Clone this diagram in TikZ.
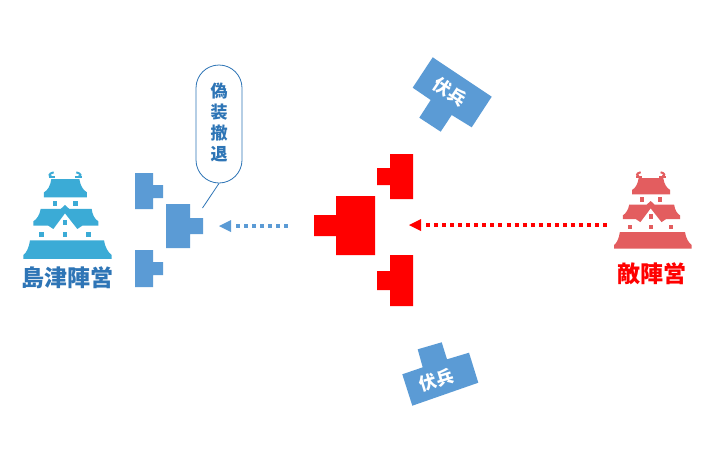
\documentclass[tikz,border=0pt]{standalone}
\usepackage{fontspec}
\newfontfamily\cjk{Noto Sans CJK JP}
\definecolor{unitblue}{HTML}{5B9BD5}
\definecolor{textblue}{HTML}{2E75B6}
\definecolor{castleblue}{HTML}{3BABD6}
\definecolor{castlered}{HTML}{E35D5F}
\tikzset{
  unit/.style={fill=#1,draw=none},
  dotline/.style={line width=4pt,dash pattern=on 4pt off 4.05pt,color=#1},
  head/.style={fill=#1,draw=none},
  ambushtext/.style={font=\cjk\bfseries\fontsize{17.5}{17.5}\selectfont,text=white,inner sep=0pt},
  camplabel/.style={font=\cjk\bfseries\fontsize{23}{23}\selectfont,inner sep=0pt},
  bubbletext/.style={font=\cjk\bfseries\fontsize{17}{21}\selectfont,text=textblue,align=center,inner sep=0pt}
}
% castle in 3x zoom coordinates
\newcommand{\castleshape}[1]{%
  \fill[#1] (124,57) -- (208,57) .. controls (211,78) and (220,91) .. (231,97) -- (231,112) -- (102,112) -- (102,97) .. controls (113,91) and (121,78) .. (124,57) -- cycle;
  \draw[#1,line width=2pt] (131,37) .. controls (115,40) and (116,50) .. (125,50);
  \draw[#1,line width=2pt] (116,52) -- (135,52);
  \draw[#1,line width=2pt] (199,37) .. controls (215,40) and (214,50) .. (205,50);
  \draw[#1,line width=2pt] (195,52) -- (216,52);
  \fill[#1] (128,122) rectangle (141,137);
  \fill[#1] (189,122) rectangle (203,137);
  \fill[#1] (92,147) -- (152,147) -- (165,135) -- (178,147) -- (245,147) .. controls (247,165) and (255,178) .. (265,184) -- (265,197) -- (217,197) -- (202,207) -- (165,160) -- (130,207) -- (115,197) -- (70,197) -- (70,184) .. controls (80,178) and (89,165) .. (92,147) -- cycle;
  \fill[#1] (160,180) rectangle (172,195);
  \fill[#1] (88,217) rectangle (102,232);
  \fill[#1] (160,217) rectangle (172,232);
  \fill[#1] (228,217) rectangle (242,232);
  \fill[#1] (60,241) -- (282,241) .. controls (285,262) and (295,278) .. (305,285) -- (305,297) -- (40,297) -- (40,285) .. controls (50,278) and (57,262) .. (60,241) -- cycle;
}
\begin{document}
\begin{tikzpicture}[x=1pt,y=-1pt]
\useasboundingbox (0,0) rectangle (714,450);
\fill[white] (0,0) rectangle (714,450);
% castles
\begin{scope}[shift={(10,160)},x=0.3333pt,y=-0.3333pt]
\castleshape{castleblue}
\end{scope}
\begin{scope}[shift={(602.27,161.4)},x=0.2933pt,y=-0.2933pt]
\castleshape{castlered}
\end{scope}
\node[camplabel,text=textblue] (bluecamp) at (67.5,278) {島津陣営};
\node[camplabel,text=red] (redcamp) at (652,274) {敵陣営};
% blue units
\fill[unit=unitblue] (135,173) -- (153,173) -- (153,185) -- (163,185) -- (163,198) -- (153,198) -- (153,209) -- (135,209) -- cycle;
\fill[unit=unitblue] (135,250) -- (153,250) -- (153,262) -- (163,262) -- (163,275) -- (153,275) -- (153,287) -- (135,287) -- cycle;
\fill[unit=unitblue] (166,204) -- (190,204) -- (190,218) -- (203,218) -- (203,234) -- (190,234) -- (190,248) -- (166,248) -- cycle;
% red units
\fill[unit=red] (336,196) -- (375,196) -- (375,255) -- (336,255) -- (336,236) -- (314,236) -- (314,215) -- (336,215) -- cycle;
\fill[unit=red] (390,154) -- (413,154) -- (413,199) -- (390,199) -- (390,185) -- (377,185) -- (377,168) -- (390,168) -- cycle;
\fill[unit=red] (390,255) -- (413,255) -- (413,306) -- (390,306) -- (390,290) -- (377,290) -- (377,271) -- (390,271) -- cycle;
% ambush units
\fill[unit=unitblue] (432.7,57.3) -- (491.7,96.7) -- (471.7,127.3) -- (451.7,115) -- (440.7,131.7) -- (419.3,117.7) -- (430.7,100) -- (412.7,87.7) -- cycle;
\node[ambushtext,rotate=-33.7] (ambushtop) at (450,91.7) {伏兵};
\fill[unit=unitblue] (402.3,374.3) -- (422.7,367.3) -- (417.7,349.3) -- (441.7,342.3) -- (447,359.3) -- (469,352.7) -- (478.3,382.7) -- (412.3,405.7) -- cycle;
\node[ambushtext,rotate=17] (ambushbottom) at (436.7,380.5) {伏兵};
% bubble
\node[draw=textblue,line width=0.8pt,fill=white,rounded corners=23pt,minimum width=46pt,minimum height=118pt,inner sep=0pt] (bubble) at (219,124) {};
\node[bubbletext] (bubbletxt) at (219,122.5) {偽\\装\\撤\\退};
\coordinate (tailend) at (202.5,208);
\draw[textblue,line width=0.8pt] (bubble.south) -- (tailend);
% arrows
\coordinate (bluetail) at (288,226);
\coordinate (bluebase) at (236,226);
\draw[dotline=unitblue] (bluebase) -- (bluetail);
\fill[head=unitblue] (219,226) -- (231,220) -- (231,232) -- cycle;
\coordinate (redtail) at (607,225);
\coordinate (redbase) at (426,225);
\draw[dotline=red] (redbase) -- (redtail);
\fill[head=red] (409,225) -- (421,219) -- (421,231) -- cycle;
\end{tikzpicture}
\end{document}
